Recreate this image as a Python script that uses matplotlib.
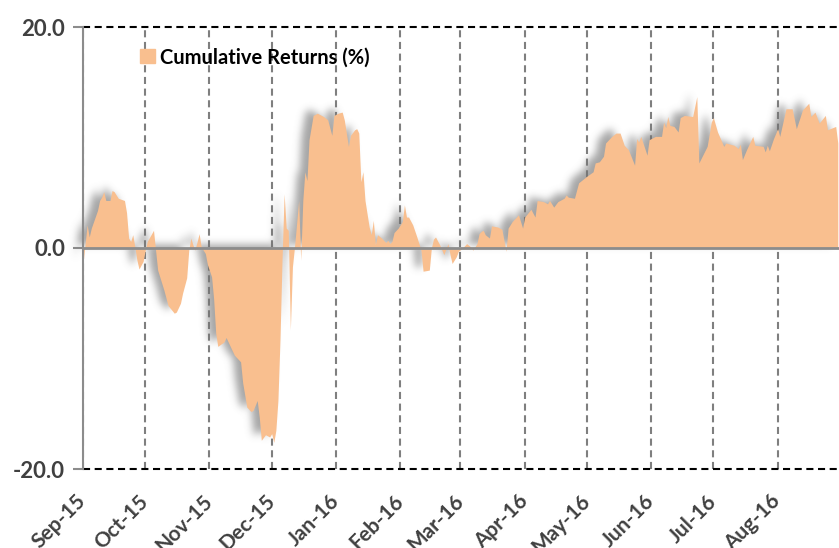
import numpy as np
import pandas as pd
import matplotlib
matplotlib.use('Agg')
import matplotlib.pyplot as plt
import matplotlib.dates as mdates
from matplotlib.patches import Patch

plt.rcParams['font.family'] = ['Lato', 'DejaVu Sans']

# cumulative returns (%)
dates = [
    '2015-09-01', '2015-09-03', '2015-09-04', '2015-09-05', '2015-09-08', '2015-09-09',
    '2015-09-10', '2015-09-11', '2015-09-12', '2015-09-14', '2015-09-15', '2015-09-16',
    '2015-09-18', '2015-09-21', '2015-09-22', '2015-09-23', '2015-09-24', '2015-09-25',
    '2015-09-26', '2015-09-27', '2015-09-28', '2015-09-30',
    '2015-10-01', '2015-10-02', '2015-10-05', '2015-10-06', '2015-10-07', '2015-10-10',
    '2015-10-12', '2015-10-15', '2015-10-16', '2015-10-18', '2015-10-19', '2015-10-21',
    '2015-10-22', '2015-10-23', '2015-10-24', '2015-10-25', '2015-10-27', '2015-10-28',
    '2015-10-30', '2015-10-31',
    '2015-11-02', '2015-11-03', '2015-11-04', '2015-11-05', '2015-11-08', '2015-11-09',
    '2015-11-11', '2015-11-13', '2015-11-16', '2015-11-17', '2015-11-19', '2015-11-21',
    '2015-11-22', '2015-11-24', '2015-11-25', '2015-11-26', '2015-11-28', '2015-11-30',
    '2015-12-01', '2015-12-02', '2015-12-03', '2015-12-04', '2015-12-05', '2015-12-06',
    '2015-12-07', '2015-12-08', '2015-12-09', '2015-12-10', '2015-12-11', '2015-12-12',
    '2015-12-14', '2015-12-15', '2015-12-16', '2015-12-17', '2015-12-18', '2015-12-19',
    '2015-12-21', '2015-12-23', '2015-12-26', '2015-12-28', '2015-12-30', '2015-12-31',
    '2016-01-02', '2016-01-04', '2016-01-05', '2016-01-07', '2016-01-08', '2016-01-10',
    '2016-01-11', '2016-01-12', '2016-01-13', '2016-01-14', '2016-01-15', '2016-01-16',
    '2016-01-17', '2016-01-18', '2016-01-19', '2016-01-20', '2016-01-21', '2016-01-23',
    '2016-01-25', '2016-01-26', '2016-01-27', '2016-01-28', '2016-01-29', '2016-01-31',
    '2016-02-02', '2016-02-03', '2016-02-04', '2016-02-05', '2016-02-07', '2016-02-09',
    '2016-02-10', '2016-02-11', '2016-02-12', '2016-02-15', '2016-02-16', '2016-02-17',
    '2016-02-18', '2016-02-20', '2016-02-22', '2016-02-24', '2016-02-25', '2016-02-26',
    '2016-02-28', '2016-02-29',
    '2016-03-02', '2016-03-04', '2016-03-06', '2016-03-07', '2016-03-09', '2016-03-10',
    '2016-03-11', '2016-03-12', '2016-03-13', '2016-03-15', '2016-03-16', '2016-03-19',
    '2016-03-21', '2016-03-23', '2016-03-24', '2016-03-26', '2016-03-29', '2016-03-31',
    '2016-04-01', '2016-04-04', '2016-04-06', '2016-04-07', '2016-04-10', '2016-04-12',
    '2016-04-13', '2016-04-15', '2016-04-17', '2016-04-20', '2016-04-21', '2016-04-22',
    '2016-04-25', '2016-04-27',
    '2016-05-01', '2016-05-04', '2016-05-05', '2016-05-07', '2016-05-09', '2016-05-10',
    '2016-05-13', '2016-05-15', '2016-05-17', '2016-05-19', '2016-05-21', '2016-05-24',
    '2016-05-25', '2016-05-26', '2016-05-27', '2016-05-30', '2016-05-31',
    '2016-06-03', '2016-06-06', '2016-06-07', '2016-06-08', '2016-06-09', '2016-06-10',
    '2016-06-12', '2016-06-14', '2016-06-15', '2016-06-17', '2016-06-21', '2016-06-23',
    '2016-06-24', '2016-06-28', '2016-06-30',
    '2016-07-01', '2016-07-03', '2016-07-06', '2016-07-07', '2016-07-11', '2016-07-13',
    '2016-07-14', '2016-07-15', '2016-07-17', '2016-07-20', '2016-07-21', '2016-07-25',
    '2016-07-26', '2016-07-27', '2016-07-28', '2016-07-30',
    '2016-08-01', '2016-08-02', '2016-08-05', '2016-08-08', '2016-08-10', '2016-08-13',
    '2016-08-16', '2016-08-17', '2016-08-19', '2016-08-21', '2016-08-24', '2016-08-25',
    '2016-08-29', '2016-08-30',
]
returns = [
    -1.4, 2.1, 1.0, 1.8, 3.4, 4.3, 4.6, 5.1, 4.3, 4.3, 5.2, 5.1,
    4.5, 4.3, 3.2, 0.9, 0.6, 1.2, 0.1, -1.1, -1.9, -1.2,
    -0.2, 0.6, 1.6, -0.2, -2.0, -3.8, -5.2, -5.9, -5.8, -5.0, -4.1, -2.7,
    -0.2, 0.9, 0.3, -0.2, 1.3, 0.1, -0.5, -1.5,
    -2.6, -4.6, -7.7, -8.9, -8.5, -8.1, -8.9, -9.7, -10.3, -12.2, -14.4, -14.8,
    -14.7, -13.8, -15.3, -17.4, -16.9, -17.1,
    -16.8, -17.6, -16.5, -13.8, -8.3, -1.0, 4.9, 1.8, 1.6, -7.4, -1.7, 0.1,
    4.3, -1.1, 4.3, 6.9, 6.1, 9.8, 12.0, 12.2, 11.9, 11.6, 10.2, 12.0,
    12.2, 12.3, 11.6, 9.2, 10.2, 10.7, 10.8, 10.4, 6.0, 6.9, 4.3, 3.1,
    1.9, 1.2, 2.5, 0.3, 1.2, 0.9, 0.5, 0.7, 0.4, 0.6, 1.4, 1.8,
    2.4, 3.9, 2.8, 2.8, 2.1, 1.0, 0.4, -0.2, -2.1, -2.0, 0.0, 0.8,
    1.0, 0.3, -0.6, 0.4, -0.6, -1.4, -0.8, -0.3,
    0.0, 0.4, 0.1, -0.2, 0.4, 1.3, 1.5, 1.6, 1.2, 0.9, 2.0, 1.9,
    1.7, -0.3, 1.8, 2.4, 3.0, 1.8,
    2.8, 3.5, 2.8, 4.3, 4.2, 4.0, 4.3, 3.7, 4.2, 4.5, 4.8, 4.6, 4.5, 5.9,
    6.5, 6.9, 7.7, 7.8, 8.3, 9.5, 10.1, 10.4, 10.4, 9.3, 8.9, 7.5,
    9.9, 9.6, 10.1, 8.4, 9.8,
    10.1, 10.1, 11.4, 10.9, 11.9, 11.1, 11.0, 10.5, 11.8, 12.0, 11.9, 13.7,
    7.7, 9.2, 11.4,
    11.8, 10.5, 9.2, 9.5, 9.3, 9.0, 9.4, 8.0, 8.9, 10.1, 9.3, 9.2,
    8.7, 9.3, 8.8, 9.9,
    10.8, 10.1, 12.6, 12.6, 10.8, 12.5, 13.1, 11.9, 12.3, 11.3, 12.0, 10.7,
    11.0, 9.5,
]
yticks = [-20, 0, 20]
label = 'Cumulative Returns (%)'

x = pd.to_datetime(dates)
y = np.array(returns)


def blur(a, sigma):
    r = int(3 * sigma)
    k = np.exp(-0.5 * (np.arange(-r, r + 1) / sigma) ** 2)
    k /= k.sum()
    a = np.apply_along_axis(lambda m: np.convolve(m, k, mode='same'), 0, a)
    a = np.apply_along_axis(lambda m: np.convolve(m, k, mode='same'), 1, a)
    return a


# soft grey shadow behind the area, pushed up and to the left
def shadow(im, dpi):
    pad = 14
    a = np.pad(im[:, :, 3], pad)
    a = np.roll(a, -4, axis=1)
    a = np.roll(a, -2, axis=0)
    a = np.clip(blur(a, 2.8) * 0.8, 0, 1)
    out = np.zeros(a.shape + (4,))
    out[..., :3] = 0.45
    out[..., 3] = a
    return out, -pad, -pad


fig = plt.figure(figsize=(8.39, 5.48), dpi=100)
ax = fig.add_axes([83 / 839, 79 / 548, 756 / 839, 442 / 548])

sh = ax.fill_between(x, 0, y, color='#F9BF8F', lw=0, zorder=1.5)
sh.set_agg_filter(shadow)
sh.set_rasterized(True)
ax.fill_between(x, 0, y, color='#F9BF8F', lw=0, zorder=2)

ax.set_ylim(-20, 20)
ax.set_xlim(pd.Timestamp('2015-09-01'), pd.Timestamp('2016-08-30 14:00'))

ax.axhline(0, color='#8c8c8c', lw=2, zorder=3)
for v in (20, -20):
    ax.axhline(v, color='black', lw=1.5, ls=(0, (3.4, 2.2)), clip_on=False, zorder=3)

ax.xaxis.set_major_locator(mdates.MonthLocator())
ax.xaxis.set_major_formatter(mdates.DateFormatter('%b-%y'))
ax.xaxis.grid(True, color='#7f7f7f', lw=1.5, ls=(0, (3.4, 2.2)), zorder=1)
ax.set_axisbelow(True)

ax.set_yticks(yticks)
ax.set_yticklabels(['%.1f' % v for v in yticks])

for s in ('top', 'right', 'bottom'):
    ax.spines[s].set_visible(False)
ax.spines['left'].set_color('#8c8c8c')
ax.spines['left'].set_linewidth(1.5)
ax.spines['left'].set_zorder(4)

ax.tick_params(axis='y', length=7, width=1.5, color='#8c8c8c', pad=6,
               labelsize=16, labelcolor='#404040')
ax.tick_params(axis='x', length=0, pad=21, labelsize=15, labelcolor='#404040')
for t in ax.get_yticklabels():
    t.set_fontweight('bold')
for t in ax.get_xticklabels():
    t.set_fontweight('bold')
    t.set_rotation(45)
    t.set_ha('right')
    t.set_va('center')
    t.set_rotation_mode('anchor')

ax.legend(handles=[Patch(color='#F9BF8F', label=label)], loc='upper left',
          bbox_to_anchor=(0.052, 0.995), frameon=False, handlelength=0.7,
          handleheight=0.7, handletextpad=0.25,
          prop={'weight': 'bold', 'size': 14.5})

fig.savefig('out.png', dpi=100)
